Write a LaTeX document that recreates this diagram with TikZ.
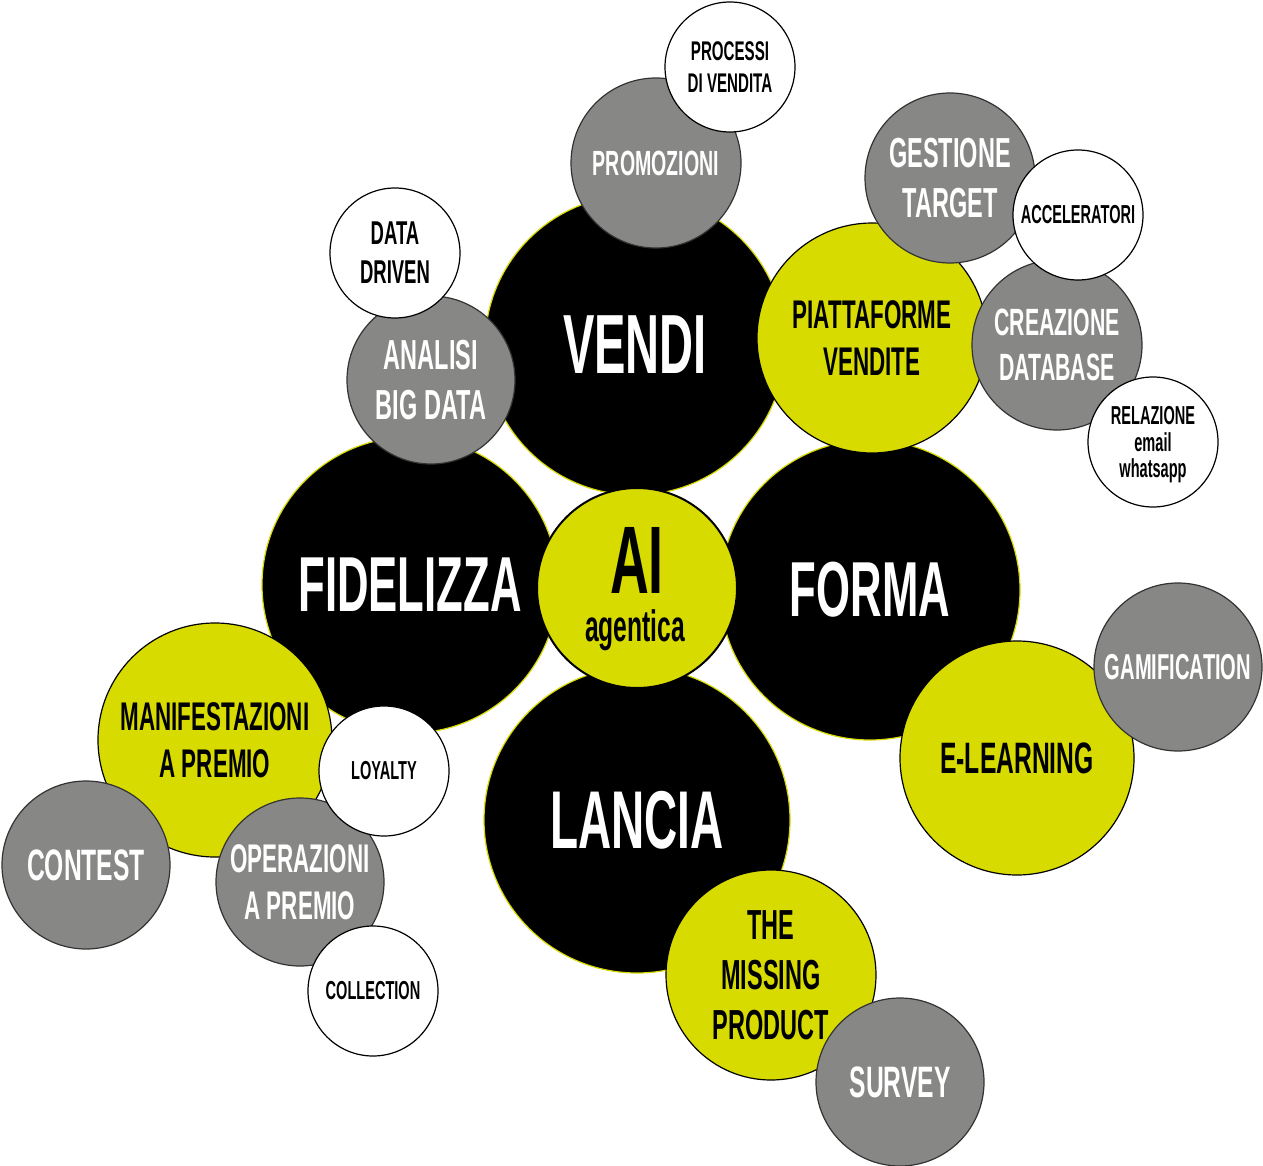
\documentclass[tikz,border=0pt]{standalone}
\usepackage{fontspec}
\setmainfont{Liberation Sans}[FakeStretch=0.56]
\definecolor{ylw}{HTML}{D8DB00}
\definecolor{gry}{HTML}{878786}
\tikzset{
 bub/.style={circle,minimum size=#1,inner sep=0pt,align=center,draw=black,line width=1.2pt},
 blk/.style={bub=#1,fill=black,draw=ylw,text=white},
 yl/.style={bub=#1,fill=ylw,text=black},
 gr/.style={bub=#1,fill=gry,text=white,draw=black!80},
 wh/.style={bub=#1,fill=white,text=black},
 f/.style={font=\bfseries\fontsize{#1}{#1}\selectfont\setlength\baselineskip{1.18\baselineskip}}
}
\begin{document}
\begin{tikzpicture}[x=1pt,y=-1pt]
\useasboundingbox (0,0) rectangle (1263,1166);
\node[blk=300pt,f=84] (vendi) at (635,345) {VENDI};
\node[blk=296pt,f=78] (fid) at (410,585) {FIDELIZZA};
\node[blk=300pt,f=78,xshift=10pt] (forma) at (860,590) {FORMA};
\node[blk=306pt,f=82] (lancia) at (637,820) {LANCIA};
\node[yl=200pt,line width=2pt,inner sep=0pt] (ai) at (637,588) {};
\node[f=96,inner sep=0pt] (ait) at (637,560) {AI};
\node[f=44,inner sep=0pt] (ag) at (635,630) {agentica};
% yellow
\node[yl=230pt,f=40] (piat) at (872,338) {PIATTAFORME\\VENDITE};
\node[yl=234pt,f=44] (elea) at (1017,758) {E-LEARNING};
\node[yl=234pt,f=40] (manif) at (215,740) {MANIFESTAZIONI\\A PREMIO};
\node[yl=210pt,f=42,text depth=0pt] (miss) at (771,975) {THE\\MISSING\\PRODUCT};
% gray
\node[gr=170pt,f=35] (promo) at (656,163) {PROMOZIONI};
\node[gr=170pt,f=42] (gest) at (950,178) {GESTIONE\\TARGET};
\node[gr=170pt,f=38] (crea) at (1057,345) {CREAZIONE\\DATABASE};
\node[gr=168pt,f=42] (anal) at (431,380) {ANALISI\\BIG DATA};
\node[gr=168pt,f=36] (gami) at (1178,667) {GAMIFICATION};
\node[gr=168pt,f=44] (cont) at (86,865) {CONTEST};
\node[gr=168pt,f=40] (oper) at (300,882) {OPERAZIONI\\A PREMIO};
\node[gr=168pt,f=44] (surv) at (900,1082) {SURVEY};
% white
\node[wh=130pt,f=27] (proc) at (730,67) {PROCESSI\\DI VENDITA};
\node[wh=130pt,f=26] (acc) at (1078,215) {ACCELERATORI};
\node[wh=130pt,f=26,text depth=0pt] (rel) at (1153,442) {RELAZIONE\\[-4pt]email\\[-4pt]whatsapp};
\node[wh=130pt,f=33] (data) at (395,253) {DATA\\DRIVEN};
\node[wh=130pt,f=26] (loy) at (384,771) {LOYALTY};
\node[wh=130pt,f=26] (coll) at (373,991) {COLLECTION};
\end{tikzpicture}
\end{document}
